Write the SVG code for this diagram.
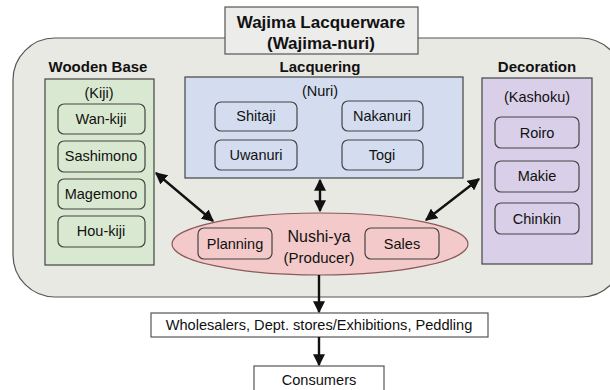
<svg xmlns="http://www.w3.org/2000/svg" width="610" height="390" viewBox="0 0 610 390">
<defs>
<style>
text{font-family:"Liberation Sans",Arial,sans-serif;fill:#111;text-anchor:middle}
.h{font-weight:bold;font-size:15px}
.t{font-size:14.5px}
.item{stroke:#444;stroke-width:1.2}
.g{fill:#d9e8d0}.b{fill:#d3ddef}.p{fill:#d9cfe8}.r{fill:#f3c9c9}
.con{stroke:#111;stroke-width:2.4;fill:none}
</style>
<marker id="ah" viewBox="0 0 10 10" refX="9" refY="5" markerWidth="5" markerHeight="5" orient="auto-start-reverse">
<path d="M0,0 L10,5 L0,10 z" fill="#111"/>
</marker>
</defs>
<rect width="610" height="390" fill="#fff"/>
<g id="frame">
<rect x="13" y="38" width="610" height="259" rx="42" fill="#e9e9e4" stroke="#555" stroke-width="1.2"/>
</g>
<g id="title">
<rect x="225" y="7" width="193" height="47" fill="#ececea" stroke="#555" stroke-width="1.2"/>
<text class="h" x="321" y="28" style="font-size:17px">Wajima Lacquerware</text>
<text class="h" x="321" y="49" style="font-size:17px">(Wajima-nuri)</text>
</g>
<g id="wooden-base">
<text class="h" x="98" y="72">Wooden Base</text>
<rect x="45" y="79" width="109" height="186" class="g" stroke="#444" stroke-width="1.2"/>
<text class="t" x="99" y="98">(Kiji)</text>
<rect x="58" y="104" width="87" height="30" rx="6" class="g item"/>
<text class="t" x="101" y="124">Wan-kiji</text>
<rect x="58" y="141" width="87" height="31" rx="6" class="g item"/>
<text class="t" x="101" y="161">Sashimono</text>
<rect x="58" y="179" width="87" height="30" rx="6" class="g item"/>
<text class="t" x="101" y="199">Magemono</text>
<rect x="58" y="216" width="87" height="31" rx="6" class="g item"/>
<text class="t" x="101" y="236">Hou-kiji</text>
</g>
<g id="lacquering">
<text class="h" x="320" y="72">Lacquering</text>
<rect x="185" y="77" width="278" height="101" class="b" stroke="#444" stroke-width="1.2"/>
<text class="t" x="320" y="96">(Nuri)</text>
<rect x="215" y="102" width="82" height="29" rx="6" class="b item"/>
<text class="t" x="256" y="121">Shitaji</text>
<rect x="215" y="140" width="82" height="30" rx="6" class="b item"/>
<text class="t" x="256" y="160">Uwanuri</text>
<rect x="342" y="101" width="81" height="30" rx="6" class="b item"/>
<text class="t" x="382" y="121">Nakanuri</text>
<rect x="342" y="140" width="81" height="30" rx="6" class="b item"/>
<text class="t" x="382" y="160">Togi</text>
</g>
<g id="decoration">
<text class="h" x="537" y="72">Decoration</text>
<rect x="482" y="78" width="110" height="186" class="p" stroke="#444" stroke-width="1.2"/>
<text class="t" x="537" y="102">(Kashoku)</text>
<rect x="495" y="117" width="84" height="31" rx="6" class="p item"/>
<text class="t" x="537" y="138">Roiro</text>
<rect x="495" y="161" width="84" height="31" rx="6" class="p item"/>
<text class="t" x="537" y="181">Makie</text>
<rect x="495" y="203" width="84" height="31" rx="6" class="p item"/>
<text class="t" x="537" y="224">Chinkin</text>
</g>
<g id="nushi-ya">
<ellipse cx="320" cy="244" rx="148" ry="31" class="r" stroke="#8a5a5a" stroke-width="1.2"/>
<rect x="198" y="228" width="74" height="31" rx="6" class="r item"/>
<text class="t" x="235" y="249">Planning</text>
<rect x="365" y="228" width="74" height="31" rx="6" class="r item"/>
<text class="t" x="402" y="249">Sales</text>
<text class="t" x="319" y="242" style="font-size:16px">Nushi-ya</text>
<text class="t" x="319" y="263" style="font-size:15px">(Producer)</text>
</g>
<g id="wholesalers">
<rect x="151" y="313" width="337" height="24" fill="#fff" stroke="#555" stroke-width="1.2"/>
<text class="t" x="319" y="330" style="font-size:14.6px">Wholesalers, Dept. stores/Exhibitions, Peddling</text>
</g>
<g id="consumers">
<rect x="254" y="366" width="130" height="30" fill="#fff" stroke="#555" stroke-width="1.2"/>
<text class="t" x="319" y="385" style="font-size:14.6px">Consumers</text>
</g>
<g id="connectors">
<line class="con" x1="156" y1="173" x2="213" y2="221" marker-start="url(#ah)" marker-end="url(#ah)"/>
<line class="con" x1="320" y1="180" x2="320" y2="211" marker-start="url(#ah)" marker-end="url(#ah)"/>
<line class="con" x1="479" y1="179" x2="426" y2="220" marker-start="url(#ah)" marker-end="url(#ah)"/>
<line class="con" x1="319" y1="275" x2="319" y2="312" marker-end="url(#ah)"/>
<line class="con" x1="319" y1="337" x2="319" y2="365" marker-end="url(#ah)"/>
</g>
</svg>
